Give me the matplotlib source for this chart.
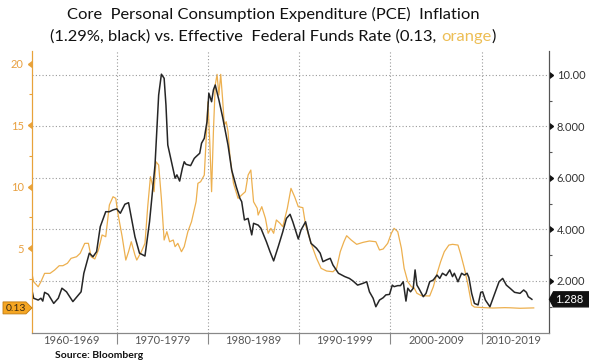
import matplotlib
matplotlib.use("Agg")
import matplotlib.pyplot as plt
from matplotlib.patches import Polygon
from matplotlib.transforms import blended_transform_factory, ScaledTranslation

plt.rcParams['font.family'] = ['Lato', 'DejaVu Sans']

# core PCE inflation, y/y % (black, right axis)
pce_years = [
    1960.75, 1960.9, 1961.4, 1961.7, 1961.9, 1962.1, 1962.5, 1963.1, 1963.6, 1964.0,
    1964.5, 1965.2, 1966.1, 1966.4, 1967.0, 1967.4, 1967.8, 1968.2, 1968.8, 1969.2,
    1969.6, 1970.0, 1970.4, 1970.9, 1971.3, 1972.0, 1972.5, 1973.1, 1973.6, 1974.2,
    1974.6, 1974.9, 1975.2, 1975.4, 1975.6, 1976.0, 1976.4, 1976.6, 1976.9, 1977.2,
    1977.4, 1977.6, 1978.1, 1978.5, 1978.7, 1979.1, 1979.3, 1979.6, 1979.9, 1980.1,
    1980.4, 1980.6, 1980.8, 1981.2, 1981.6, 1982.2, 1982.6, 1983.1, 1983.5, 1983.7,
    1984.0, 1984.4, 1984.8, 1985.0, 1985.5, 1985.8, 1986.4, 1986.8, 1987.2, 1987.7,
    1988.2, 1988.6, 1989.0, 1989.3, 1989.9, 1990.2, 1990.7, 1991.0, 1991.3, 1991.9,
    1992.3, 1992.6, 1993.0, 1993.4, 1993.7, 1994.3, 1995.0, 1995.5, 1995.9, 1996.4,
    1997.0, 1997.4, 1997.7, 1998.1, 1998.4, 1998.8, 1999.2, 1999.5, 1999.9, 2000.2,
    2000.4, 2000.8, 2001.1, 2001.4, 2001.7, 2001.9, 2002.2, 2002.5, 2002.7, 2002.9,
    2003.1, 2003.6, 2003.9, 2004.3, 2004.7, 2005.1, 2005.4, 2005.7, 2006.1, 2006.5,
    2006.8, 2007.0, 2007.4, 2007.8, 2008.1, 2008.4, 2008.6, 2008.9, 2009.2, 2009.6,
    2009.9, 2010.1, 2010.4, 2010.9, 2011.5, 2011.9, 2012.3, 2012.7, 2013.1, 2013.6,
    2014.2, 2014.6, 2014.9, 2015.1, 2015.5,
]
pce_values = [
    1.58, 1.33, 1.26, 1.33, 1.22, 1.56, 1.48, 1.13, 1.33, 1.72,
    1.58, 1.20, 1.58, 2.30, 3.08, 2.94, 3.14, 4.11, 4.69, 4.69,
    4.76, 4.80, 4.63, 4.98, 5.04, 3.72, 3.08, 2.97, 4.30, 6.50,
    9.22, 10.03, 9.87, 8.83, 7.28, 6.63, 5.99, 6.12, 5.88, 6.38,
    6.63, 6.53, 6.48, 6.76, 6.83, 6.96, 7.35, 7.54, 8.19, 9.29,
    8.96, 9.42, 9.61, 9.03, 8.38, 7.28, 6.31, 5.66, 5.21, 5.08,
    4.37, 4.43, 3.79, 4.24, 4.17, 4.05, 3.53, 3.14, 2.78, 3.33,
    3.91, 4.43, 4.59, 4.30, 3.63, 3.98, 4.30, 3.85, 3.46, 3.27,
    3.08, 2.75, 2.82, 2.88, 2.62, 2.30, 2.17, 2.10, 2.00, 1.84,
    1.91, 1.97, 1.58, 1.33, 1.00, 1.26, 1.35, 1.46, 1.48, 1.84,
    1.78, 1.82, 1.82, 1.97, 1.22, 1.72, 1.58, 1.72, 2.43, 1.84,
    1.72, 1.39, 1.52, 1.97, 2.04, 2.23, 2.10, 2.30, 2.21, 2.43,
    2.17, 2.30, 1.97, 2.30, 2.23, 2.30, 2.13, 1.52, 1.13, 1.07,
    1.56, 1.58, 1.26, 1.00, 1.58, 1.97, 2.10, 1.84, 1.72, 1.56,
    1.52, 1.65, 1.56, 1.39, 1.288,
]

# effective federal funds rate, % (orange, left axis)
ffr_years = [
    1960.75, 1960.9, 1961.4, 1961.7, 1962.1, 1962.7, 1963.2, 1963.7, 1964.1, 1964.6,
    1965.0, 1965.6, 1966.0, 1966.5, 1966.9, 1967.2, 1967.6, 1968.0, 1968.4, 1968.8,
    1969.2, 1969.6, 1969.9, 1970.1, 1970.6, 1971.0, 1971.3, 1971.6, 1972.0, 1972.2,
    1972.7, 1973.1, 1973.4, 1973.7, 1974.1, 1974.3, 1974.6, 1974.9, 1975.2, 1975.5,
    1975.8, 1976.2, 1976.4, 1976.7, 1977.1, 1977.4, 1977.8, 1978.2, 1978.7, 1978.9,
    1979.2, 1979.6, 1979.8, 1980.0, 1980.2, 1980.4, 1980.6, 1980.8, 1981.0, 1981.2,
    1981.4, 1981.6, 1981.8, 1982.0, 1982.2, 1982.4, 1982.8, 1983.3, 1983.7, 1984.1,
    1984.4, 1984.7, 1985.0, 1985.4, 1985.5, 1985.9, 1986.3, 1986.6, 1986.9, 1987.2,
    1987.5, 1987.9, 1988.2, 1988.7, 1989.1, 1989.5, 1989.9, 1990.4, 1990.7, 1991.3,
    1991.9, 1992.4, 1993.0, 1993.7, 1994.1, 1994.5, 1994.9, 1995.2, 1995.7, 1996.3,
    1997.0, 1997.7, 1998.4, 1998.8, 1999.2, 1999.7, 2000.1, 2000.4, 2000.8, 2001.2,
    2001.5, 2001.9, 2002.3, 2002.6, 2002.9, 2003.4, 2004.3, 2004.7, 2005.0, 2005.5,
    2005.9, 2006.4, 2006.8, 2007.4, 2007.7, 2008.1, 2008.5, 2008.9, 2009.2, 2010.0,
    2011.2, 2012.5, 2013.1, 2014.2, 2015.0, 2015.7,
]
ffr_values = [
    2.80, 2.26, 1.85, 2.26, 2.94, 2.94, 3.21, 3.56, 3.56, 3.76,
    4.16, 4.29, 4.57, 5.38, 5.38, 4.29, 4.11, 4.84, 6.06, 5.92,
    8.50, 9.17, 9.04, 7.95, 5.92, 4.02, 4.70, 5.51, 4.43, 4.02,
    4.70, 5.38, 8.36, 10.80, 9.58, 12.02, 11.75, 9.00, 5.65, 6.33,
    5.51, 5.65, 5.11, 5.38, 4.70, 5.11, 6.33, 7.14, 8.76, 10.26,
    10.39, 10.93, 13.78, 16.89, 13.64, 9.58, 14.46, 18.25, 19.12, 17.44,
    19.12, 17.17, 15.00, 15.27, 14.46, 12.56, 10.26, 9.04, 9.31, 9.58,
    10.93, 11.34, 8.76, 8.23, 7.68, 8.36, 7.41, 6.20, 6.60, 6.20,
    7.28, 7.01, 6.73, 8.23, 9.85, 9.17, 8.36, 8.28, 6.87, 5.38,
    4.16, 3.35, 3.13, 3.07, 3.35, 4.70, 5.51, 6.00, 5.65, 5.30,
    5.46, 5.57, 5.51, 4.84, 4.92, 5.38, 6.20, 6.60, 6.33, 4.98,
    3.35, 2.26, 1.85, 1.75, 1.32, 1.12, 1.10, 1.85, 2.67, 3.89,
    4.70, 5.24, 5.30, 5.24, 4.49, 3.35, 1.99, 0.37, 0.20, 0.16,
    0.12, 0.15, 0.14, 0.10, 0.12, 0.13,
]

decade_bounds = [1970, 1980, 1990, 2000, 2010]
decade_centers = [1965, 1975, 1985, 1995, 2005, 2013.5]
decade_labels = ["1960-1969", "1970-1979", "1980-1989", "1990-1999", "2000-2009", "2010-2019"]

ffr_ticks = [5, 10, 15, 20]
pce_ticks = [2, 4, 6, 8, 10]
pce_ticklabels = ["2.000", "4.000", "6.000", "8.000", "10.00"]

ORANGE = '#EDB04F'
ORANGE_AXIS = '#E8A23A'
BLACK = '#262626'

W, H = 589, 364
fig = plt.figure(figsize=(W / 100, H / 100), dpi=100, facecolor='white')
ax = fig.add_axes([32 / W, 31.5 / H, 516.5 / W, 281.5 / H])
ax2 = ax.twinx()

ax.plot(ffr_years, ffr_values, color=ORANGE, lw=0.9)
ax2.plot(pce_years, pce_values, color=BLACK, lw=1.1)

ax.set_xlim(1960.72, 2017.32)
ax.set_ylim(-1.87, 21.02)
ax2.set_ylim(0, 10.93)

# x axis: decade separators + centred labels
ax.set_xticks(decade_bounds)
ax.set_xticklabels([])
ax.set_xticks(decade_centers, minor=True)
ax.set_xticklabels(decade_labels, minor=True)
ax.tick_params(axis='x', which='major', direction='out', length=8, width=0.8, color='#888888')
ax.tick_params(axis='x', which='minor', length=0, pad=2, labelsize=8, labelcolor='#555555')
ax.xaxis.grid(True, which='major', linestyle=(0, (1, 2)), color='#9a9a9a', lw=0.8)

# left axis (fed funds)
ax.set_yticks(ffr_ticks)
ax.set_yticks([2.5, 7.5, 12.5, 17.5], minor=True)
ax.tick_params(axis='y', which='major', length=4, width=1, color=ORANGE_AXIS,
               labelsize=8, labelcolor='#E8A040', pad=2)
ax.tick_params(axis='y', which='minor', length=2.5, width=0.8, color=ORANGE_AXIS)

# right axis (core PCE)
ax2.set_yticks(pce_ticks)
ax2.set_yticklabels(pce_ticklabels)
ax2.set_yticks([1, 3, 5, 7, 9], minor=True)
ax2.tick_params(axis='y', which='major', length=4, width=1, color='#111111',
                labelsize=8, labelcolor='#333333', pad=2)
ax2.tick_params(axis='y', which='minor', length=2.5, width=0.8, color='#555555')
ax2.yaxis.grid(True, which='major', linestyle=(0, (1, 2)), color='#9a9a9a', lw=0.8)

for t in ax.yaxis.get_major_ticks():
    t.tick1line.set_marker(8)
for t in ax2.yaxis.get_major_ticks():
    t.tick2line.set_marker(9)

for a in (ax, ax2):
    a.spines['top'].set_visible(False)
    a.spines['left'].set_color(ORANGE_AXIS)
    a.spines['right'].set_color('#555555')
    a.spines['bottom'].set_color('#888888')
    a.spines['bottom'].set_linewidth(0.8)

# last-value labels
tr_r = fig.dpi_scale_trans + ScaledTranslation(1.0, pce_values[-1], blended_transform_factory(ax2.transAxes, ax2.transData))
fig.add_artist(Polygon([(0.01, 0), (0.05, 0.075), (0.45, 0.075), (0.45, -0.075), (0.05, -0.075)],
                       closed=True, transform=tr_r, facecolor='#111111', edgecolor='#111111', clip_on=False))
fig.text(0.065, -0.005, f"{pce_values[-1]:.3f}", transform=tr_r, color='white', fontsize=8, va='center', ha='left')

tr_l = fig.dpi_scale_trans + ScaledTranslation(0.0, ffr_values[-1], blended_transform_factory(ax.transAxes, ax.transData))
fig.add_artist(Polygon([(-0.29, 0.06), (-0.06, 0.06), (0.0, 0), (-0.06, -0.06), (-0.29, -0.06)],
                       closed=True, transform=tr_l, facecolor='#F5A623', edgecolor='#C07A10', lw=0.6, clip_on=False))
fig.text(-0.165, -0.003, f"{ffr_values[-1]:.2f}", transform=tr_l, color='#3B2A12', fontsize=7.5, va='center', ha='center')

# title
t1 = fig.text(273 / W, 1 - 14 / H, "Core  Personal Consumption Expenditure (PCE)  Inflation",
              ha='center', va='center', fontsize=12.5, color='#111111')
t2a = fig.text(0, 1 - 37 / H, "(1.29%, black) vs. Effective  Federal Funds Rate (0.13,",
               ha='left', va='center', fontsize=12.5, color='#111111')
t2b = fig.text(0, 1 - 37 / H, "orange", ha='left', va='center', fontsize=12.5, color='#EDBE55')
t2c = fig.text(0, 1 - 37 / H, ")", ha='left', va='center', fontsize=12.5, color='#111111')

fig.canvas.draw()
r = fig.canvas.get_renderer()
fs = 12.5 * 413 / t1.get_window_extent(r).width
for t in (t1, t2a, t2b, t2c):
    t.set_fontsize(fs)
probe1 = fig.text(0, 0, "x x", fontsize=fs)
probe2 = fig.text(0, 0, "xx", fontsize=fs)
fig.canvas.draw()
gap = probe1.get_window_extent(r).width - probe2.get_window_extent(r).width
probe1.remove()
probe2.remove()
wa = t2a.get_window_extent(r).width
wb = t2b.get_window_extent(r).width
wc = t2c.get_window_extent(r).width
x0 = 273 - (wa + gap + wb + wc) / 2
t2a.set_x(x0 / W)
t2b.set_x((x0 + wa + gap) / W)
t2c.set_x((x0 + wa + gap + wb) / W)

fig.text(55 / W, 1 - 355 / H, "Source: Bloomberg", fontsize=7.5, fontweight='bold', va='center', color='#111111')

fig.savefig("out.png", dpi=100, facecolor='white')
